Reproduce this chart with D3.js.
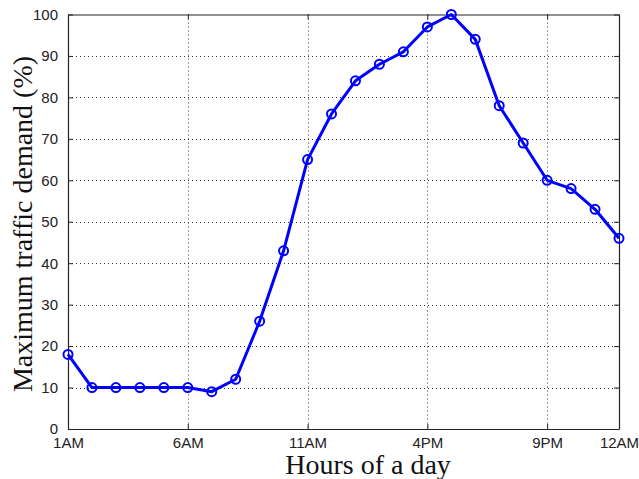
<!DOCTYPE html>
<html><head><meta charset="utf-8">
<script src="https://cdn.jsdelivr.net/npm/d3@7"></script>
<style>body{margin:0;background:#fff}</style>
</head><body>
<svg id="c" width="639" height="479"></svg>
<script>
const hours = d3.range(1, 25);
const demand = [18,10,10,10,10,10,9,12,26,43,65,76,84,88,91,97,100,94,78,69,60,58,53,46];
const xTickValues = [1, 6, 11, 16, 21, 24];
const xTickLabels = ["1AM", "6AM", "11AM", "4PM", "9PM", "12AM"];
const yTickValues = d3.range(0, 101, 10);
const xTitle = "Hours of a day";
const yTitle = "Maximum traffic demand (%)";

const svg = d3.select("#c");
const L = 68, R = 619, T = 14.5, B = 429;
const x = d3.scaleLinear().domain([1, 24]).range([L, R]);
const y = d3.scaleLinear().domain([0, 100]).range([B, T]);

const g = svg.append("g");
// grid
g.selectAll(".gy").data(yTickValues.filter(v => v > 0 && v < 100)).join("line")
  .attr("x1", L).attr("x2", R).attr("y1", d => Math.round(y(d)) + 0.5).attr("y2", d => Math.round(y(d)) + 0.5)
  .attr("stroke", "#333").attr("stroke-width", 1).attr("stroke-dasharray", "1,3");
g.selectAll(".gx").data(xTickValues.filter(v => v > 1 && v < 24)).join("line")
  .attr("y1", T).attr("y2", B).attr("x1", d => Math.round(x(d)) + 0.5).attr("x2", d => Math.round(x(d)) + 0.5)
  .attr("stroke", "#333").attr("stroke-width", 1).attr("stroke-dasharray", "1,3");

// axes
const fmtX = d => xTickLabels[xTickValues.indexOf(d)];
const ax = d3.axisBottom(x).tickValues(xTickValues).tickFormat(fmtX).tickSizeInner(-5).tickSizeOuter(0).tickPadding(8);
const ay = d3.axisLeft(y).tickValues(yTickValues).tickSizeInner(-5).tickSizeOuter(0).tickPadding(10);
const axT = d3.axisTop(x).tickValues(xTickValues).tickFormat("").tickSizeInner(-5).tickSizeOuter(0);
const ayR = d3.axisRight(y).tickValues(yTickValues).tickFormat("").tickSizeInner(-5).tickSizeOuter(0);

function style(sel){
  sel.select(".domain").attr("stroke", "#222").attr("stroke-width", 1.2);
  sel.selectAll(".tick line").attr("stroke", "#222");
  sel.selectAll("text").attr("font-family", "Liberation Sans, Arial, sans-serif").attr("font-size", 15).attr("fill", "#222");
}
svg.append("g").attr("transform", `translate(0,${B})`).call(ax).call(style);
svg.append("g").attr("transform", `translate(${L},0)`).call(ay).call(style);
svg.append("g").attr("transform", `translate(0,${T})`).call(axT).call(style);
svg.append("g").attr("transform", `translate(${R},0)`).call(ayR).call(style);

// line
const pts = hours.map((h, i) => [h, demand[i]]);
svg.append("path").datum(pts)
  .attr("d", d3.line().x(d => x(d[0])).y(d => y(d[1])))
  .attr("fill", "none").attr("stroke", "#0000ff").attr("stroke-width", 3).attr("stroke-linejoin", "round");
svg.selectAll(".m").data(pts).join("circle")
  .attr("cx", d => x(d[0])).attr("cy", d => y(d[1])).attr("r", 4.5)
  .attr("fill", "none").attr("stroke", "#0000ff").attr("stroke-width", 2);

// titles
svg.append("text").attr("x", 368).attr("y", 474).attr("text-anchor", "middle")
  .attr("font-family", "Liberation Serif, Times New Roman, serif").attr("font-size", 28).attr("fill", "#111")
  .text(xTitle);
svg.append("text").attr("transform", "translate(32,224) rotate(-90)").attr("text-anchor", "middle")
  .attr("font-family", "Liberation Serif, Times New Roman, serif").attr("font-size", 28).attr("fill", "#111")
  .text(yTitle);
</script>
</body></html>
